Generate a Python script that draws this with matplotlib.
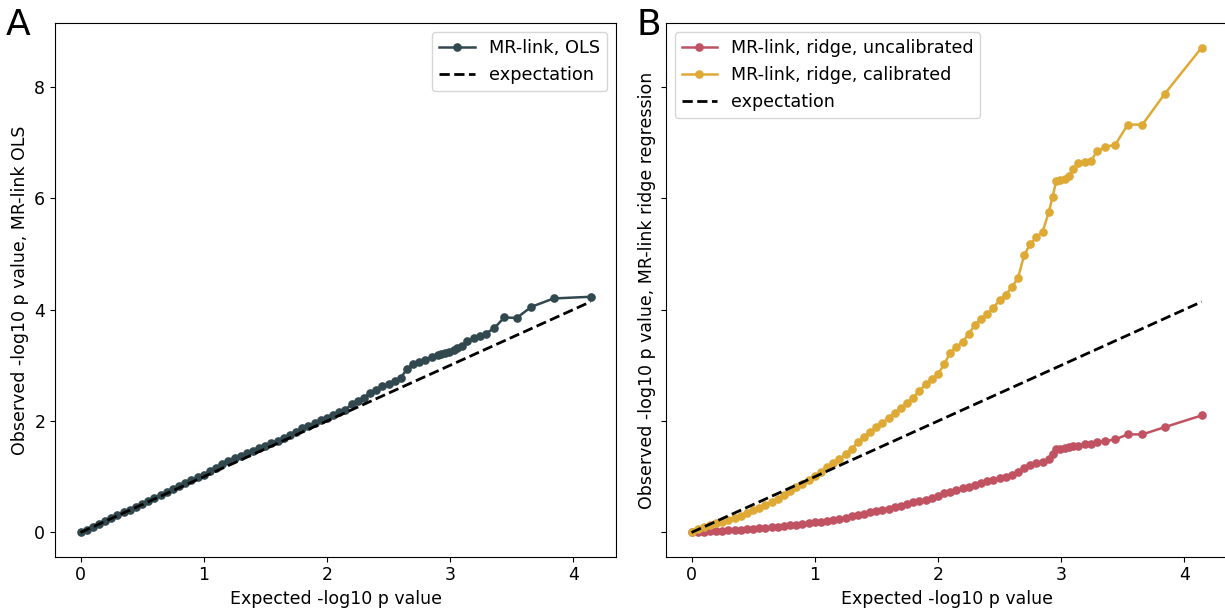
import matplotlib
matplotlib.use('Agg')
import matplotlib.pyplot as plt

# expected -log10 p values (shared by all series)
expected = [0.00, 0.05, 0.10, 0.15, 0.20, 0.25, 0.30, 0.35, 0.40, 0.45,
            0.50, 0.55, 0.60, 0.65, 0.70, 0.75, 0.80, 0.85, 0.90, 0.95,
            1.00, 1.05, 1.10, 1.15, 1.20, 1.25, 1.30, 1.35, 1.40, 1.45,
            1.50, 1.55, 1.60, 1.65, 1.70, 1.75, 1.80, 1.85, 1.90, 1.95,
            2.00, 2.05, 2.10, 2.15, 2.20, 2.25, 2.30, 2.35, 2.40, 2.45,
            2.50, 2.55, 2.60, 2.65, 2.70, 2.75, 2.80, 2.85, 2.90, 2.93,
            2.96, 2.99, 3.03, 3.06, 3.10, 3.14, 3.19, 3.24, 3.29, 3.36,
            3.44, 3.54, 3.66, 3.84, 4.14]

# observed -log10 p values
ols = [0.00, 0.05, 0.10, 0.155, 0.205, 0.26, 0.31, 0.36, 0.41, 0.465,
       0.515, 0.565, 0.62, 0.67, 0.72, 0.775, 0.83, 0.88, 0.935, 0.99,
       1.04, 1.10, 1.16, 1.23, 1.29, 1.34, 1.38, 1.42, 1.46, 1.51,
       1.56, 1.60, 1.65, 1.70, 1.75, 1.81, 1.87, 1.91, 1.96, 2.01,
       2.05, 2.11, 2.16, 2.20, 2.30, 2.36, 2.42, 2.50, 2.56, 2.62,
       2.66, 2.72, 2.78, 2.93, 3.03, 3.06, 3.10, 3.15, 3.19, 3.21,
       3.22, 3.24, 3.28, 3.31, 3.34, 3.43, 3.49, 3.52, 3.57, 3.67,
       3.86, 3.85, 4.05, 4.20, 4.23]

ridge_uncal = [0.00, 0.005, 0.01, 0.02, 0.025, 0.03, 0.04, 0.045, 0.05, 0.06,
               0.07, 0.075, 0.085, 0.095, 0.10, 0.115, 0.125, 0.135, 0.15, 0.165,
               0.18, 0.19, 0.205, 0.22, 0.24, 0.265, 0.29, 0.31, 0.34, 0.365,
               0.39, 0.41, 0.43, 0.455, 0.48, 0.51, 0.54, 0.565, 0.59, 0.62,
               0.65, 0.70, 0.73, 0.76, 0.79, 0.82, 0.86, 0.89, 0.92, 0.94,
               0.97, 0.99, 1.04, 1.09, 1.15, 1.21, 1.24, 1.27, 1.31, 1.40,
               1.49, 1.50, 1.51, 1.53, 1.55, 1.56, 1.58, 1.59, 1.62, 1.64,
               1.67, 1.76, 1.76, 1.89, 2.10]

ridge_cal = [0.00, 0.06, 0.10, 0.13, 0.165, 0.195, 0.23, 0.26, 0.30, 0.35,
             0.395, 0.445, 0.49, 0.545, 0.60, 0.67, 0.74, 0.81, 0.87, 0.935,
             1.01, 1.08, 1.17, 1.25, 1.32, 1.40, 1.50, 1.62, 1.71, 1.80,
             1.89, 1.97, 2.05, 2.14, 2.23, 2.32, 2.42, 2.54, 2.66, 2.75,
             2.84, 3.02, 3.22, 3.33, 3.42, 3.57, 3.72, 3.83, 3.92, 4.03,
             4.17, 4.27, 4.40, 4.57, 4.98, 5.18, 5.30, 5.40, 5.75, 6.02,
             6.30, 6.32, 6.34, 6.40, 6.52, 6.63, 6.65, 6.66, 6.84, 6.92,
             6.96, 7.32, 7.32, 7.87, 8.70]

plt.rcParams['font.family'] = ['DejaVu Sans']
plt.rcParams['font.size'] = 12.5

fig = plt.figure(figsize=(12.25, 6.15), dpi=100)
ax1 = fig.add_axes([0.0449, 0.0948, 0.458, 0.867])
ax2 = fig.add_axes([0.5437, 0.0948, 0.458, 0.867], sharey=ax1)

ms = 5.2
lw = 1.8

# panel A
ax1.plot(expected, ols, '-o', color='#31484f', markersize=ms, linewidth=lw,
         label='MR-link, OLS')
ax1.plot(expected, expected, '--', color='black', linewidth=2, label='expectation')
ax1.set_xlabel('Expected -log10 p value')
ax1.set_ylabel('Observed -log10 p value, MR-link OLS')
ax1.legend(loc='upper right', fontsize=12.8)

# panel B
ax2.plot(expected, ridge_uncal, '-o', color='#c05262', markersize=ms, linewidth=lw,
         label='MR-link, ridge, uncalibrated')
ax2.plot(expected, ridge_cal, '-o', color='#dea935', markersize=ms, linewidth=lw,
         label='MR-link, ridge, calibrated')
ax2.plot(expected, expected, '--', color='black', linewidth=2, label='expectation')
ax2.set_xlabel('Expected -log10 p value')
ax2.set_ylabel('Observed -log10 p value, MR-link ridge regression')
ax2.tick_params(axis='y', labelleft=False)
ax2.legend(loc='upper left', fontsize=12.6)

for ax in (ax1, ax2):
    ax.set_xticks([0, 1, 2, 3, 4])
    ax.set_yticks([0, 2, 4, 6, 8])

fig.text(0.005, 1 - 35 / 615, 'A', fontsize=26, va='baseline')
fig.text(0.52, 1 - 35 / 615, 'B', fontsize=26, va='baseline')

fig.savefig('out.png', dpi=100)
